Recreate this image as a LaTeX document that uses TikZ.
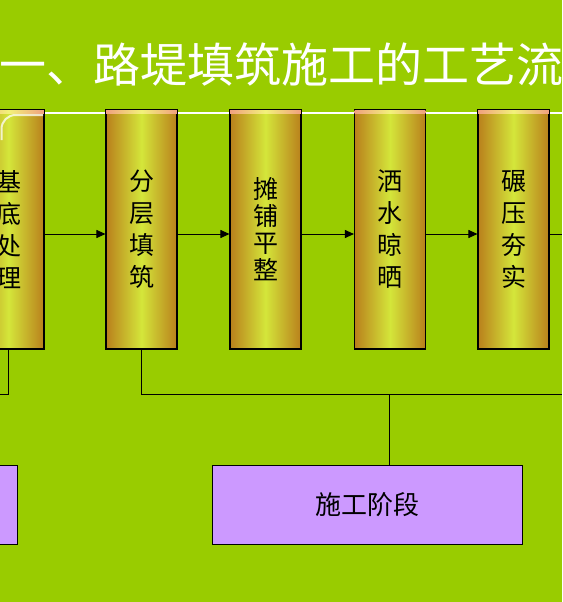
\documentclass[tikz,border=0pt]{standalone}
\usepackage{fontspec}
\newfontfamily\cjk{Noto Sans CJK SC}
\usetikzlibrary{arrows.meta}
\definecolor{slidegreen}{HTML}{99CC00}
\definecolor{stageedge}{HTML}{B9801C}
\definecolor{stagemid}{HTML}{D4E63A}
\definecolor{hlpink}{HTML}{F0A080}
\definecolor{hlyellow}{HTML}{F2F27A}
\definecolor{phasefill}{HTML}{CC99FF}

\begin{document}
\begin{tikzpicture}[x=1pt, y=-1pt,
  stage/.style={draw, line width=1.1pt, minimum width=71pt, minimum height=239pt,
    inner sep=0pt, left color=stageedge, right color=stageedge, middle color=stagemid,
    align=center, font=\cjk\fontsize{25}{32}\selectfont},
  phase/.style={draw, line width=1pt, fill=phasefill, minimum height=79pt,
    inner sep=0pt, font=\cjk\fontsize{26}{30}\selectfont},
  flow/.style={line width=0.9pt, -{Triangle[length=9pt,width=8pt]}},
  link/.style={line width=0.9pt}]
\useasboundingbox (0,0) rectangle (562,602);
\clip (0,0) rectangle (562,602);
\fill[slidegreen] (0,0) rectangle (562,602);

% title and white rule
\node[anchor=west, inner sep=0pt, text=white, font=\cjk\fontsize{47}{50}\selectfont] (title) at (-1,65) {一、路堤填筑施工的工艺流程};
\draw[white, line width=2.5pt] (0,113) -- (562,113);

% steps
\node[stage] (jd) at (8.5,229.5) {基\\底\\处\\理};
\node[stage] (fc) at (141.5,229.5) {分\\层\\填\\筑};
\node[stage, font=\cjk\fontsize{25}{27}\selectfont] (tp) at (265.5,229.5) {摊\\铺\\平\\整};
\node[stage] (ss) at (390,229.5) {洒\\水\\晾\\晒};
\node[stage] (ny) at (513.5,229.5) {碾\\压\\夯\\实};

\foreach \s in {jd,fc,tp,ss,ny}
  \fill[left color=hlpink, right color=hlpink, middle color=hlyellow]
    ([xshift=0.6pt,yshift=-0.6pt]\s.north west) rectangle ([xshift=-0.6pt,yshift=-4pt]\s.north east);
\draw[white, opacity=0.75, line width=2pt] (1.5,140) -- (1.5,129) arc[start angle=180, end angle=270, radius=14] -- (43,115);

% phases
\node[phase, minimum width=120pt] (zb) at (-43,504.5) {};
\node[phase, minimum width=310pt] (sg) at (367,504.5) {施工阶段};

% connectors
\draw[flow] ([yshift=-4.5pt]jd.east) -- ([yshift=-4.5pt]fc.west);
\draw[flow] ([yshift=-4.5pt]fc.east) -- ([yshift=-4.5pt]tp.west);
\draw[flow] ([yshift=-4.5pt]tp.east) -- ([yshift=-4.5pt]ss.west);
\draw[flow] ([yshift=-4.5pt]ss.east) -- ([yshift=-4.5pt]ny.west);
\coordinate (next) at (562,234);
\draw[link] ([yshift=-4.5pt]ny.east) -- (next);

\coordinate (busL) at (0,394);
\coordinate (busR) at (562,394);
\coordinate (sgtop) at (389,465);
\draw[link] (jd.south) |- (busL);
\draw[link] (fc.south) |- (busR);
\draw[link] (sgtop) -- (sgtop |- busR);
\end{tikzpicture}
\end{document}
